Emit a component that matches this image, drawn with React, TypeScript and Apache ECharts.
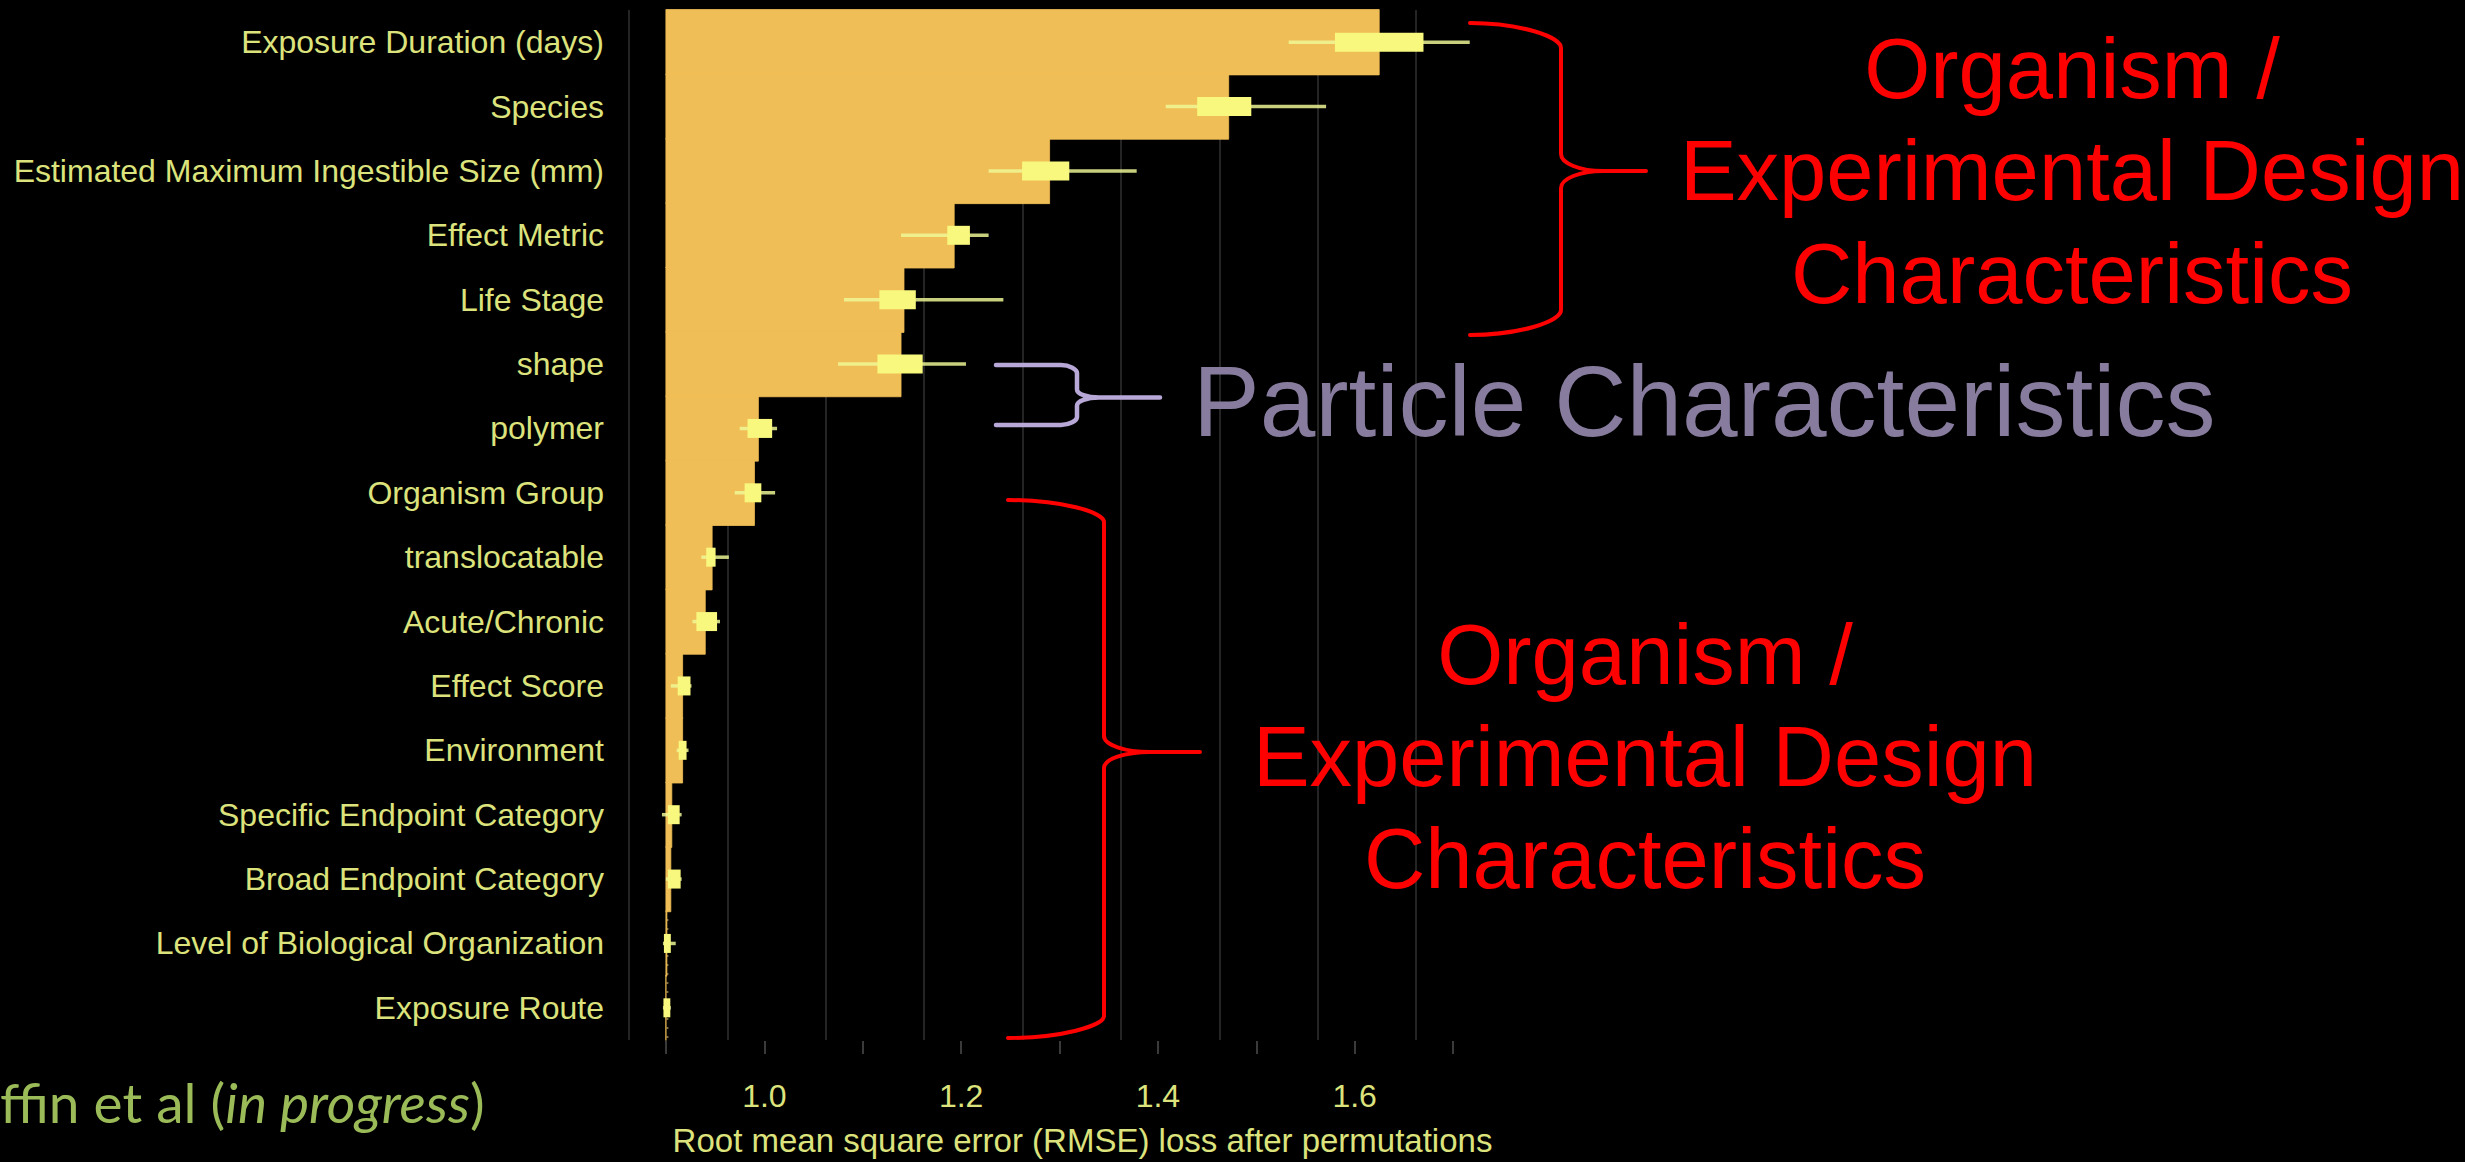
import React, { useEffect, useRef } from "react";
import * as echarts from "echarts";

// ---------- data ----------
const categories = [
  "Exposure Duration (days)",
  "Species",
  "Estimated Maximum Ingestible Size (mm)",
  "Effect Metric",
  "Life Stage",
  "shape",
  "polymer",
  "Organism Group",
  "translocatable",
  "Acute/Chronic",
  "Effect Score",
  "Environment",
  "Specific Endpoint Category",
  "Broad Endpoint Category",
  "Level of Biological Organization",
  "Exposure Route",
];

const baselineRMSE = 0.9;

const importance = [1.625, 1.472, 1.29, 1.193, 1.142, 1.139, 0.994, 0.99, 0.947, 0.94, 0.917, 0.917, 0.906, 0.905, 0.901, 0.9];
const whiskerLow = [1.533, 1.408, 1.228, 1.139, 1.081, 1.075, 0.975, 0.97, 0.936, 0.927, 0.905, 0.911, 0.896, 0.9, 0.897, 0.897];
const boxLow = [1.58, 1.44, 1.262, 1.186, 1.117, 1.115, 0.983, 0.98, 0.941, 0.931, 0.912, 0.913, 0.902, 0.902, 0.898, 0.8975];
const boxHigh = [1.67, 1.495, 1.31, 1.209, 1.154, 1.161, 1.008, 0.997, 0.9505, 0.952, 0.925, 0.921, 0.914, 0.915, 0.905, 0.9045];
const whiskerHigh = [1.717, 1.571, 1.3785, 1.228, 1.243, 1.205, 1.013, 1.011, 0.964, 0.955, 0.926, 0.923, 0.916, 0.916, 0.91, 0.905];

const tickLabels = ["1.0", "1.2", "1.4", "1.6"];
const axisTitle = "Root mean square error (RMSE) loss after permutations";

// ---------- styles ----------
const W = 2465;
const H = 1162;
const SANS = "'Liberation Sans', Arial, Helvetica, sans-serif";
const LABEL_COLOR = "#DCE37C";
const BAR_COLOR = "#F0BE56";
const BOX_COLOR = "#F8F87E";
const WHISKER_COLOR = "rgba(238,248,150,0.84)";
const RED = "#FF0000";

function bracePath(
  xL: number, yTop: number, yBot: number, xV: number, xTip: number, yTip: number,
  ex: number, ey: number, tx: number, ty: number
) {
  return [
    `M${xL},${yTop}`,
    `L${xV - ex},${yTop}`,
    `C${xV - ex * 0.45},${yTop} ${xV},${yTop + ey * 0.55} ${xV},${yTop + ey}`,
    `L${xV},${yTip - ty}`,
    `C${xV},${yTip - ty * 0.45} ${xV + tx * 0.45},${yTip} ${xV + tx},${yTip}`,
    `L${xTip},${yTip}`,
    `M${xV + tx},${yTip}`,
    `C${xV + tx * 0.45},${yTip} ${xV},${yTip + ty * 0.45} ${xV},${yTip + ty}`,
    `L${xV},${yBot - ey}`,
    `C${xV},${yBot - ey * 0.55} ${xV - ex * 0.45},${yBot} ${xV - ex},${yBot}`,
    `L${xL},${yBot}`,
  ].join(" ");
}

export default function App() {
  const ref = useRef<HTMLDivElement>(null);

  useEffect(() => {
    if (!ref.current) return;
    const g: any = echarts.graphic;
    g.registerShape("braceTopRed", g.extendPath(bracePath(1470, 23, 335, 1561, 1646, 171, 91, 25, 42, 17), {}));
    g.registerShape("braceLowRed", g.extendPath(bracePath(1008, 500, 1038, 1104, 1200, 752, 96, 22, 46, 16), {}));
    g.registerShape("braceParticle", g.extendPath(bracePath(996, 365, 425, 1077, 1160, 397.5, 16, 8, 22, 8), {}));

    const chart = echarts.init(ref.current, null, { renderer: "svg", width: W, height: H });

    const barData = categories.map((c, i) => [baselineRMSE, importance[i], i]);
    const errData = categories.map((c, i) => [whiskerLow[i], boxLow[i], boxHigh[i], whiskerHigh[i], i]);

    const option: any = {
      animation: false,
      backgroundColor: "#000000",
      grid: [
        { left: 629, top: 10, width: 824, height: 1030, containLabel: false, outerBoundsMode: "none" },
        { left: 666, top: 1000, width: 787, height: 41, containLabel: false, outerBoundsMode: "none" },
      ],
      xAxis: [
        { gridIndex: 0, type: "value", min: 0.8625, max: 1.7, show: false },
        {
          gridIndex: 0, type: "value", min: 0.9, max: 1.7375, interval: 0.1,
          axisLine: { show: false }, axisTick: { show: false }, axisLabel: { show: false },
          splitLine: { show: true, showMaxLine: false, lineStyle: { color: "#242424", width: 2 } },
        },
        {
          gridIndex: 1, type: "value", min: 0.9, max: 1.7, interval: 0.1, position: "bottom", offset: 7,
          axisLine: { show: false },
          axisTick: { show: true, length: 13, lineStyle: { color: "#3a3a3a", width: 2 } },
          splitLine: { show: false },
          axisLabel: {
            color: LABEL_COLOR, fontSize: 32, fontFamily: SANS, margin: 32,
            formatter: (v: number) => (tickLabels.includes(v.toFixed(1)) ? v.toFixed(1) : ""),
          },
          name: axisTitle,
          nameLocation: "middle",
          nameGap: 76,
          nameTextStyle: { color: LABEL_COLOR, fontSize: 33, fontFamily: SANS, padding: [0, 0, 0, 46] },
        },
      ],
      yAxis: [
        {
          gridIndex: 0, type: "category", data: categories, inverse: true,
          axisLine: { show: false }, axisTick: { show: false }, splitLine: { show: false },
          axisLabel: { color: LABEL_COLOR, fontSize: 32, fontFamily: SANS, margin: 25 },
        },
        { gridIndex: 1, type: "value", min: 0, max: 1, show: false },
      ],
      series: [
        {
          type: "custom", name: "baseline", xAxisIndex: 0, yAxisIndex: 0, z: 1,
          data: [[baselineRMSE, categories.length - 1]],
          encode: { x: 0, y: 1 },
          renderItem: (params: any, api: any) => {
            const x = api.coord([api.value(0), 0])[0] + 1.5;
            const cs = params.coordSys;
            return {
              type: "line",
              shape: { x1: x, y1: cs.y, x2: x, y2: cs.y + cs.height },
              style: { stroke: "#7d6c44", lineWidth: 2, lineDash: [2, 7] },
            };
          },
        },
        {
          type: "custom", name: "importance", xAxisIndex: 0, yAxisIndex: 0, z: 2,
          data: barData,
          encode: { x: [0, 1], y: 2 },
          renderItem: (params: any, api: any) => {
            const s = api.coord([api.value(0), api.value(2)]);
            const e = api.coord([api.value(1), api.value(2)]);
            const h = api.size([0, 1])[1];
            return {
              type: "rect",
              shape: { x: s[0], y: s[1] - h / 2 - 0.5, width: Math.max(0, e[0] - s[0]), height: h + 1 },
              style: { fill: BAR_COLOR, stroke: BAR_COLOR, lineWidth: 0.8 },
            };
          },
        },
        {
          type: "custom", name: "permutation spread", xAxisIndex: 0, yAxisIndex: 0, z: 3,
          data: errData,
          encode: { x: [0, 1, 2, 3], y: 4 },
          renderItem: (params: any, api: any) => {
            const yi = api.value(4);
            const wl = api.coord([api.value(0), yi]);
            const bl = api.coord([api.value(1), yi]);
            const bh = api.coord([api.value(2), yi]);
            const wh = api.coord([api.value(3), yi]);
            const bw = 19;
            return {
              type: "group",
              children: [
                {
                  type: "line",
                  shape: { x1: wl[0], y1: wl[1], x2: wh[0], y2: wh[1] },
                  style: { stroke: WHISKER_COLOR, lineWidth: 3.5 },
                },
                {
                  type: "rect",
                  shape: { x: bl[0], y: bl[1] - bw / 2, width: Math.max(2, bh[0] - bl[0]), height: bw },
                  style: { fill: BOX_COLOR },
                },
              ],
            };
          },
        },
      ],
      graphic: [
        { type: "braceTopRed", x: 0, y: 0, z: 10, style: { stroke: RED, lineWidth: 4, fill: "none", lineCap: "round" } },
        { type: "braceLowRed", x: 0, y: 0, z: 10, style: { stroke: RED, lineWidth: 4, fill: "none", lineCap: "round" } },
        { type: "braceParticle", x: 0, y: 0, z: 10, style: { stroke: "#B8A8D8", lineWidth: 4.5, fill: "none", lineCap: "round" } },
        ...[
          ["Organism /", 2072, 68],
          ["Experimental Design", 2072, 170],
          ["Characteristics", 2072, 273],
          ["Organism /", 1645, 654],
          ["Experimental Design", 1645, 756],
          ["Characteristics", 1645, 858],
        ].map(([t, x, y]) => ({
          type: "text", x, y, z: 10,
          style: {
            text: t, fill: RED, fontSize: 85, fontFamily: SANS,
            textAlign: "center", align: "center", textVerticalAlign: "middle", verticalAlign: "middle",
          },
        })),
        {
          type: "text", x: 1193, y: 400.5, z: 10,
          style: {
            text: "Particle Characteristics", fill: "#877C9D", fontSize: 100, fontFamily: SANS,
            textAlign: "left", align: "left", textVerticalAlign: "middle", verticalAlign: "middle",
          },
        },
        {
          type: "text", x: 0, y: 1102, z: 10,
          style: {
            text: "ffin et al ({it|in progress})",
            fill: "#9BBB59", fontSize: 55, fontFamily: "Lato, 'Open Sans', sans-serif",
            textAlign: "left", align: "left", textVerticalAlign: "middle", verticalAlign: "middle",
            rich: {
              it: { fontStyle: "italic", fontSize: 55, fontFamily: "Lato, 'Open Sans', sans-serif", fill: "#9BBB59", color: "#9BBB59" },
            },
          },
        },
      ],
    };

    chart.setOption(option);
    return () => chart.dispose();
  }, []);

  return (
    <div
      ref={ref}
      style={{ position: "fixed", left: 0, top: 0, width: W, height: H, background: "#000" }}
    />
  );
}
